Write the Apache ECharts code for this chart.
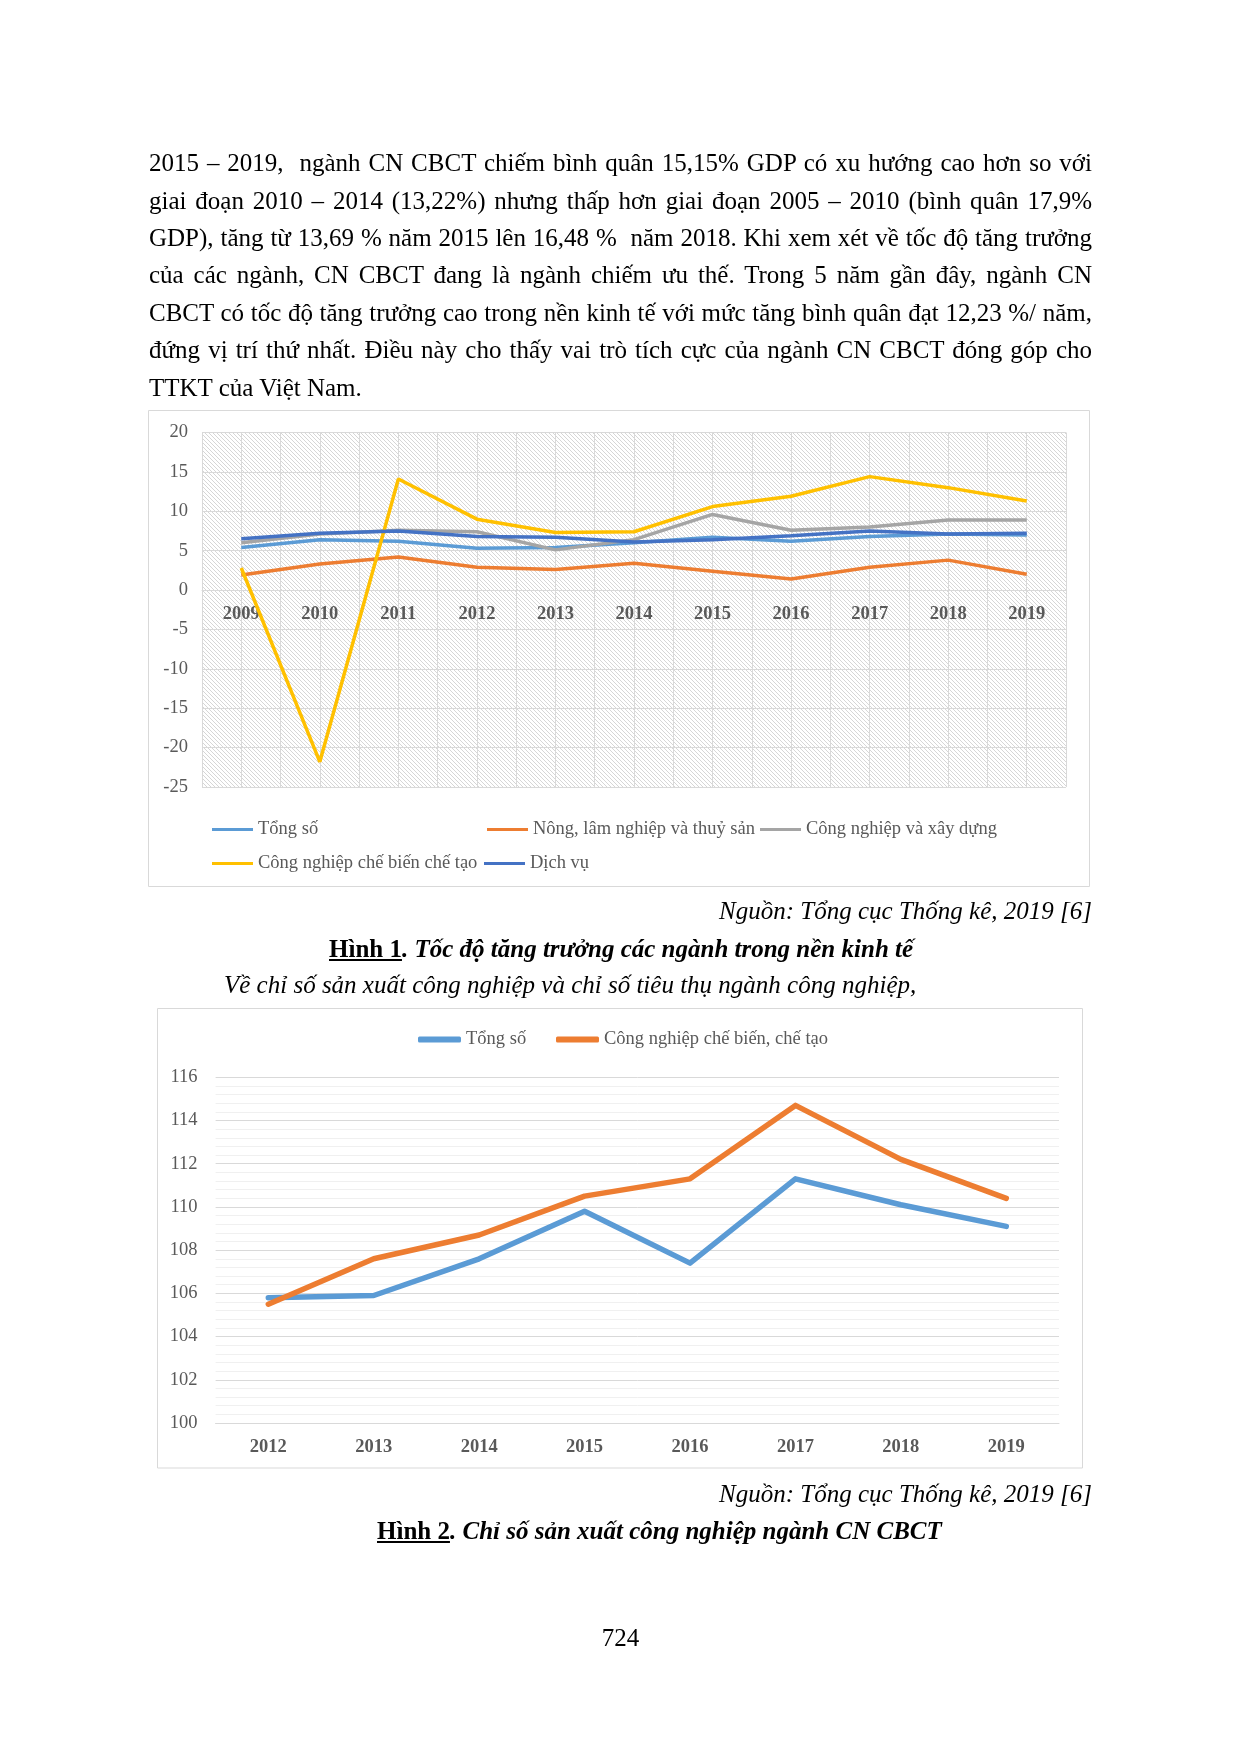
<!DOCTYPE html>
<html>
<head>
<meta charset="utf-8">
<script src="https://cdn.jsdelivr.net/npm/echarts@6/dist/echarts.min.js"></script>
<style>
  html, body { margin:0; padding:0; background:#fff; }
  #page { position:relative; width:1240px; height:1754px; overflow:hidden; font-family:'Liberation Serif','Times New Roman',serif; color:#000; }
  #chart { position:absolute; left:0; top:0; width:1240px; height:1754px; }
  .ln { position:absolute; left:149px; width:943px; font-size:25px; line-height:37.5px; height:37.5px; text-align:justify; text-align-last:justify; }
  .ln.last { text-align-last:left; }
  .t { position:absolute; font-size:25px; line-height:37.5px; white-space:nowrap; }
</style>
</head>
<body>
<div id="page">
  <div id="chart"></div>
  <div class="ln" style="top:144px">2015 – 2019,&nbsp; ngành CN CBCT chiếm bình quân 15,15% GDP có xu hướng cao hơn so với</div>
  <div class="ln" style="top:182px">giai đoạn 2010 – 2014 (13,22%) nhưng thấp hơn giai đoạn 2005 – 2010 (bình quân 17,9%</div>
  <div class="ln" style="top:219px">GDP), tăng từ 13,69 % năm 2015 lên 16,48 %&nbsp; năm 2018. Khi xem xét về tốc độ tăng trưởng</div>
  <div class="ln" style="top:256px">của các ngành, CN CBCT đang là ngành chiếm ưu thế. Trong 5 năm gần đây, ngành CN</div>
  <div class="ln" style="top:294px">CBCT có tốc độ tăng trưởng cao trong nền kinh tế với mức tăng bình quân đạt 12,23 %/ năm,</div>
  <div class="ln" style="top:331px">đứng vị trí thứ nhất. Điều này cho thấy vai trò tích cực của ngành CN CBCT đóng góp cho</div>
  <div class="ln last" style="top:369px">TTKT của Việt Nam.</div>

  <div class="t" style="top:892px; right:148px; font-style:italic;">Nguồn: Tổng cục Thống kê, 2019 [6]</div>
  <div class="t" style="top:930px; left:329px; font-weight:bold;"><u>Hình 1</u><i>. Tốc độ tăng trưởng các ngành trong nền kinh tế</i></div>
  <div class="t" style="top:966px; left:224px; font-style:italic;">Về chỉ số sản xuất công nghiệp và chỉ số tiêu thụ ngành công nghiệp,</div>

  <div class="t" style="top:1475px; right:148px; font-style:italic;">Nguồn: Tổng cục Thống kê, 2019 [6]</div>
  <div class="t" style="top:1512px; left:377px; font-weight:bold;"><u>Hình 2</u><i>. Chỉ số sản xuất công nghiệp ngành CN CBCT</i></div>

  <div class="t" style="top:1619px; left:0; width:1241px; text-align:center;">724</div>
</div>
<script>
// ---------- Chart 1 data: Tốc độ tăng trưởng (%) ----------
const years1 = ['2009','2010','2011','2012','2013','2014','2015','2016','2017','2018','2019'];
const tongSo1   = [5.4, 6.4, 6.2, 5.3, 5.4, 6.0, 6.7, 6.2, 6.8, 7.1, 7.0];
const nongLam   = [1.9, 3.3, 4.2, 2.9, 2.6, 3.4, 2.4, 1.4, 2.9, 3.8, 2.0];
const cnXayDung = [6.0, 7.1, 7.6, 7.4, 5.1, 6.4, 9.6, 7.6, 8.0, 8.9, 8.9];
const cnCBCT1   = [2.8, -21.8, 14.1, 9.0, 7.3, 7.4, 10.6, 11.9, 14.4, 13.0, 11.3];
const dichVu    = [6.5, 7.2, 7.5, 6.8, 6.7, 6.1, 6.4, 6.9, 7.5, 7.1, 7.2];
const yMin1 = -25, yMax1 = 20, yStep1 = 5;

// ---------- Chart 2 data: Chỉ số sản xuất công nghiệp ----------
const years2 = ['2012','2013','2014','2015','2016','2017','2018','2019'];
const tongSo2 = [105.8, 105.9, 107.6, 109.8, 107.4, 111.3, 110.1, 109.1];
const cnCBCT2 = [105.5, 107.6, 108.7, 110.5, 111.3, 114.7, 112.2, 110.4];
const yMin2 = 100, yMax2 = 116, yStep2 = 2;

const names1 = ['Tổng số', 'Nông, lâm nghiệp và thuỷ sản', 'Công nghiệp và xây dựng', 'Công nghiệp chế biến chế tạo', 'Dịch vụ'];
const colors1 = ['#5B9BD5', '#ED7D31', '#A5A5A5', '#FFC000', '#4472C4'];
const names2 = ['Tổng số ', 'Công nghiệp chế biến, chế tạo'];
const colors2 = ['#5B9BD5', '#ED7D31'];

// hatch pattern for plot background
const hc = document.createElement('canvas');
hc.width = 4; hc.height = 4;
const hx = hc.getContext('2d');
hx.fillStyle = '#ffffff'; hx.fillRect(0, 0, 4, 4);
hx.fillStyle = '#d6d6d6';
for (let i = 0; i < 4; i++) hx.fillRect(i, i, 1, 1);

const FONT = 'Liberation Serif';
const GRAY = '#595959';
const GRID = '#d9d9d9';
const FS = 18.5;

const grid1H = 354.5;
// place the category axis where y = 0 (derived from the y scale)
const zeroOffset1 = -((0 - yMin1) / (yMax1 - yMin1)) * grid1H;

const chart = echarts.init(document.getElementById('chart'), null, { renderer: 'canvas' });

const legendBase = {
  icon: 'rect', itemWidth: 41, itemHeight: 3, itemGap: 0, padding: 0,
  textStyle: { fontFamily: FONT, fontSize: FS, color: GRAY },
  selectedMode: false
};

const series1 = [tongSo1, nongLam, cnXayDung, cnCBCT1, dichVu].map((d, i) => ({
  name: names1[i], type: 'line', xAxisIndex: 0, yAxisIndex: 0,
  data: d, symbol: 'none', smooth: false,
  lineStyle: { width: 3.5, color: colors1[i] }, itemStyle: { color: colors1[i] },
  z: 3 + i
}));
const series2 = [tongSo2, cnCBCT2].map((d, i) => ({
  name: names2[i], type: 'line', xAxisIndex: 2, yAxisIndex: 1,
  data: d, symbol: 'none', smooth: false,
  lineStyle: { width: 5.5, color: colors2[i], cap: 'round', join: 'round' }, itemStyle: { color: colors2[i] },
  z: 3 + i
}));

chart.setOption({
  animation: false,
  backgroundColor: 'transparent',
  textStyle: { fontFamily: FONT },
  graphic: [
    { type: 'rect', shape: { x: 148.5, y: 410.5, width: 941, height: 476 }, style: { fill: 'none', stroke: GRID, lineWidth: 1 }, silent: true, z: -10 },
    { type: 'rect', shape: { x: 157.5, y: 1008.5, width: 925, height: 459.5 }, style: { fill: 'none', stroke: GRID, lineWidth: 1 }, silent: true, z: -10 }
  ],
  grid: [
    { left: 202, top: 432.5, width: 864, height: grid1H, show: true, borderWidth: 0,
      backgroundColor: { image: hc, repeat: 'repeat' } },
    { left: 215.6, top: 1077.3, width: 843.4, height: 345.7 }
  ],
  legend: [
    Object.assign({}, legendBase, { data: [names1[0]], left: 212, top: 820 }),
    Object.assign({}, legendBase, { data: [names1[1]], left: 487, top: 820 }),
    Object.assign({}, legendBase, { data: [names1[2]], left: 760, top: 820 }),
    Object.assign({}, legendBase, { data: [names1[3]], left: 212, top: 854 }),
    Object.assign({}, legendBase, { data: [names1[4]], left: 484, top: 854 }),
    Object.assign({}, legendBase, { data: [names2[0]], left: 418, top: 1030, icon: 'roundRect', itemWidth: 43, itemHeight: 6 }),
    Object.assign({}, legendBase, { data: [names2[1]], left: 556, top: 1030, icon: 'roundRect', itemWidth: 43, itemHeight: 6 })
  ],
  xAxis: [
    { type: 'category', gridIndex: 0, data: years1, boundaryGap: true,
      position: 'bottom', offset: zeroOffset1,
      axisLine: { show: true, onZero: false, lineStyle: { color: GRID, width: 1 } },
      axisTick: { show: false },
      axisLabel: { fontFamily: FONT, fontSize: FS, fontWeight: 'bold', color: GRAY, margin: 15 },
      splitLine: { show: false }, z: 2 },
    { type: 'value', gridIndex: 0, min: 0, max: 22, interval: 1, position: 'top',
      axisLine: { show: false }, axisTick: { show: false }, axisLabel: { show: false },
      splitLine: { show: true, lineStyle: { color: GRID, width: 1 } } },
    { type: 'category', gridIndex: 1, data: years2, boundaryGap: true,
      axisLine: { show: true, lineStyle: { color: GRID, width: 1 } },
      axisTick: { show: false },
      axisLabel: { fontFamily: FONT, fontSize: FS, fontWeight: 'bold', color: GRAY, margin: 15 },
      splitLine: { show: false } }
  ],
  yAxis: [
    { type: 'value', gridIndex: 0, min: yMin1, max: yMax1, interval: yStep1,
      axisLine: { show: false }, axisTick: { show: false },
      axisLabel: { fontFamily: FONT, fontSize: FS, color: GRAY, margin: 14 },
      splitLine: { show: true, lineStyle: { color: GRID, width: 1 } } },
    { type: 'value', gridIndex: 1, min: yMin2, max: yMax2, interval: yStep2,
      axisLine: { show: false }, axisTick: { show: false },
      axisLabel: { fontFamily: FONT, fontSize: FS, color: GRAY, margin: 18 },
      splitLine: { show: true, lineStyle: { color: GRID, width: 1 } },
      minorTick: { show: false, splitNumber: 5 },
      minorSplitLine: { show: true, lineStyle: { color: '#f0f0f0', width: 1 } } }
  ],
  series: series1.concat(series2)
});
</script>
</body>
</html>
